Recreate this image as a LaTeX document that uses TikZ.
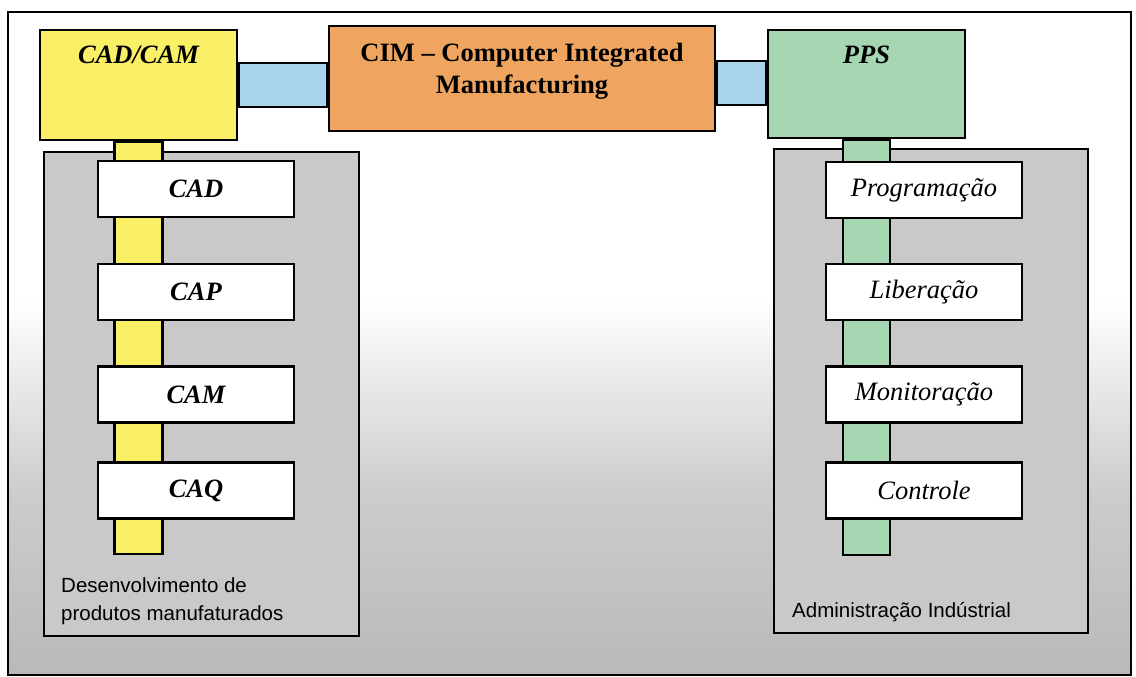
\documentclass[tikz,border=0pt]{standalone}
\usepackage{fontspec}
\setmainfont{Liberation Serif}
\newfontfamily\labelsans{Liberation Sans}
\usetikzlibrary{calc}

\definecolor{camyellow}{HTML}{FAF066}
\definecolor{cimorange}{HTML}{EFA55F}
\definecolor{linkblue}{HTML}{A8D3EA}
\definecolor{ppsgreen}{HTML}{A7D6B2}
\definecolor{panelgray}{HTML}{C9C9C9}
\definecolor{bgmid}{HTML}{CDCDCD}
\definecolor{bgbot}{HTML}{B9B9B9}

\tikzset{
  box/.style={draw=black, line width=2.6pt, rectangle, inner sep=0pt},
  topbox/.style={box, minimum width=197pt, minimum height=109pt},
  panel/.style={box, fill=panelgray, minimum height=484pt},
  slotbox/.style={box, fill=white, minimum width=196pt, minimum height=56pt},
  leftslot/.style={slotbox, font=\fontsize{26.5}{30}\selectfont\bfseries\itshape},
  rightslot/.style={slotbox, font=\fontsize{26.5}{30}\selectfont\itshape},
  toptext/.style={anchor=base, inner sep=0pt, font=\fontsize{26.5}{30}\selectfont\bfseries\itshape},
  cimtext/.style={anchor=base, inner sep=0pt, font=\fontsize{26.5}{30}\selectfont\bfseries},
  paneltext/.style={anchor=base west, inner sep=0pt, font=\labelsans\fontsize{20.5}{25}\selectfont},
  linkbar/.style={box, fill=linkblue},
}

\begin{document}
\begin{tikzpicture}[x=1pt, y=-1pt]
  \useasboundingbox (0,0) rectangle (1136,677);
  \fill[white] (0,0) rectangle (1136,677);

  % grey toning of the lower half of the sheet
  \shade[top color=white, bottom color=bgmid] (8,300) rectangle (1131,490);
  \shade[top color=bgmid, bottom color=bgbot] (8,489.5) rectangle (1131,675);

  % outer frame
  \draw[line width=2pt] (8,12) rectangle (1131,675);

  % the two grey areas
  \node[panel, minimum width=315pt] (devpanel) at (201.5,394) {};
  \node[panel, minimum width=314pt] (admpanel) at (931,391) {};

  % top row boxes
  \node[topbox, fill=camyellow, minimum height=110pt] (cadcam) at (138.5,85) {};
  \node[box, fill=cimorange, minimum width=386pt, minimum height=105pt] (cim) at (522,78.5) {};
  \node[topbox, fill=ppsgreen, minimum height=108pt] (pps) at (866.5,84) {};

  % vertical spines
  \coordinate (camend) at (138.5,554);
  \coordinate (ppsend) at (866.5,555);
  \draw[box, fill=camyellow] ($(cadcam.south)+(-24,0)$) rectangle ($(camend)+(24,0)$);
  \draw[box, fill=ppsgreen] ($(pps.south)+(-23.5,0)$) rectangle ($(ppsend)+(23.5,0)$);
  % redraw the top boxes over the spine ends
  \node[topbox, fill=camyellow, minimum height=110pt] at (cadcam) {};
  \node[topbox, fill=ppsgreen, minimum height=108pt] at (pps) {};

  % horizontal links between the top boxes
  \draw[linkbar] ($(cadcam.east)+(0,-22)$) rectangle ($(cim.west |- cadcam.east)+(0,22)$);
  \draw[linkbar] ($(cim.east |- pps.west)+(0,-23)$) rectangle ($(pps.west)+(0,21)$);

  % titles of the top boxes
  \node[toptext] (cadcamtitle) at ($(cadcam.north)+(0,35)$) {CAD/CAM};
  \node[toptext] (ppstitle) at ($(pps.north)+(0,35)$) {PPS};
  \node[cimtext] (cimline1) at (522,62) {CIM – Computer Integrated};
  \node[cimtext] (cimline2) at (522,93) {Manufacturing};

  % left column
  \node[leftslot] (cad) at (196,189) {CAD};
  \node[leftslot] (cap) at (196,292) {CAP};
  \node[leftslot] (cam) at (196,394.5) {CAM};
  \node[leftslot] (caq) at (196,490.5) {CAQ};

  % right column
  \node[rightslot] (prog) at (924,190) {Programação};
  \node[rightslot] (lib) at (924,292) {Liberação};
  \node[rightslot] (mon) at (924,394.5) {Monitoração};
  \node[rightslot] (ctrl) at (924,490.5) {Controle};

  % captions of the grey areas
  \node[paneltext] (devline1) at (61,592) {Desenvolvimento de};
  \node[paneltext] (devline2) at (61,620) {produtos manufaturados};
  \node[paneltext] (admline) at (792,617) {Administração Indústrial};
\end{tikzpicture}
\end{document}
